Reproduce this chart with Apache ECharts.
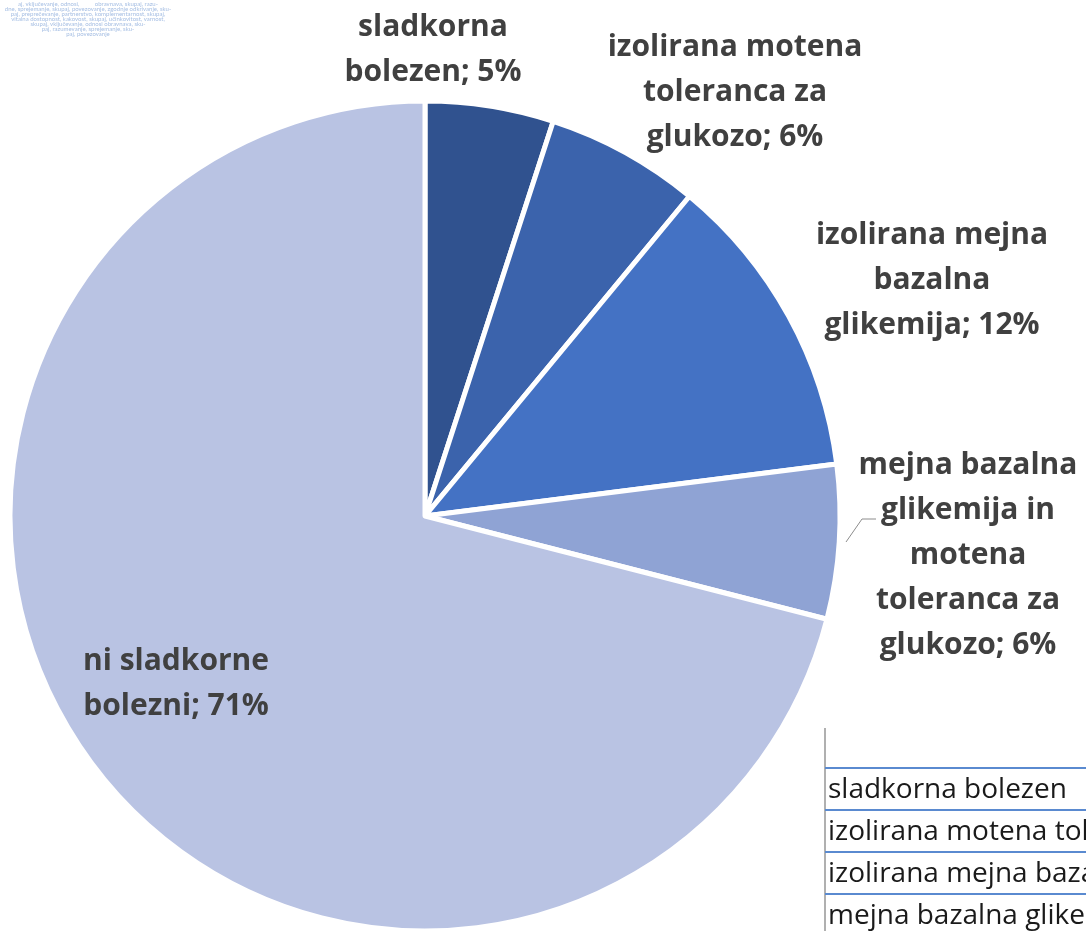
<!DOCTYPE html>
<html>
<head>
<meta charset="utf-8">
<script src="https://cdn.jsdelivr.net/npm/echarts@6/dist/echarts.min.js"></script>
<style>
	html, body { margin: 0; padding: 0; background: #fff; }
	#myChart { width: 1086px; height: 931px; }
</style>
</head>
<body>
<div id="myChart"></div>
<script>
// podatki
var categories = [
	'sladkorna bolezen',
	'izolirana motena toleranca za glukozo',
	'izolirana mejna bazalna glikemija',
	'mejna bazalna glikemija in motena toleranca za glukozo',
	'ni sladkorne bolezni'
]
var labelTexts = [
	'sladkorna\nbolezen',
	'izolirana motena\ntoleranca za\nglukozo',
	'izolirana mejna\nbazalna\nglikemija',
	'mejna bazalna\nglikemija in\nmotena\ntoleranca za\nglukozo',
	'ni sladkorne\nbolezni'
]
var values = [5, 6, 12, 6, 71]
var colors = ['#30528f', '#3b63ac', '#4472c4', '#8fa3d4', '#b9c3e3']
var tableRows = [
	'sladkorna bolezen',
	'izolirana motena toleranca za glukozo',
	'izolirana mejna bazalna glikemija',
	'mejna bazalna glikemija in motena toleranca za glukozo'
]
var cloudLines = [
	'aj, vključevanje, odnosi,          obravnava, skupaj, razu-',
	'dne, sprejemanje, skupaj, povezovanje, zgodnje odkrivanje, sku-',
	'paj, preprečevanje, partnerstvo, komplementarnost, skupaj,',
	'vitalna dostopnost, kakovost, skupaj, učinkovitost, varnost,',
	'skupaj, vključevanje, odnosi obravnava, sku-',
	'paj, razumevanje, sprejemanje, sku-',
	'paj, povezovanje'
]

var myChart = echarts.init(document.getElementById('myChart'))

// pozicije nalepk
var labelPos = [[433, 50], [735, 92], [932, 280], [968, 555], [176, 684]]

var graphics = []
cloudLines.forEach(function (t, i) {
	graphics.push({
		type: 'text',
		style: { text: t, x: 88, y: 1 + i * 5, fill: '#8eaedc', font: '6px Lato', align: 'center', opacity: 0.8 }
	})
})
// tabela spodaj desno
graphics.push({ type: 'line', shape: { x1: 825, y1: 728, x2: 825, y2: 931 }, style: { stroke: '#b0b0b0', lineWidth: 2 } })
tableRows.forEach(function (t, i) {
	graphics.push({ type: 'line', shape: { x1: 825, y1: 768 + i * 42, x2: 1086, y2: 768 + i * 42 }, style: { stroke: '#5a8ad0', lineWidth: 2 } })
	graphics.push({
		type: 'text',
		style: { text: t, x: 828, y: 790 + i * 42, fill: '#1a1a1a', font: '28px "Open Sans"', verticalAlign: 'middle' }
	})
})

var option = {
	animation: false,
	graphic: graphics,
	series: [{
		type: 'pie',
		center: [425, 516],
		radius: 415,
		startAngle: 90,
		clockwise: true,
		avoidLabelOverlap: false,
		itemStyle: {
			borderColor: '#ffffff',
			borderWidth: 5
		},
		label: {
			show: true,
			position: 'outside',
			formatter: function (p) {
				return labelTexts[p.dataIndex] + '; ' + p.value + '%'
			},
			color: '#404040',
			fontFamily: 'Open Sans',
			fontWeight: 'bold',
			fontSize: 30,
			lineHeight: 45,
			align: 'center'
		},
		labelLine: { show: false },
		labelLayout: function (params) {
			var i = params.dataIndex
			var res = {
				x: labelPos[i][0],
				y: labelPos[i][1],
				align: 'center',
				verticalAlign: 'middle'
			}
			if (i === 3) {
				res.labelLinePoints = [[846, 542], [862, 519], [876, 519]]
			}
			return res
		},
		data: values.map(function (v, i) {
			var item = { name: categories[i], value: v, itemStyle: { color: colors[i] } }
			if (i === 3) {
				item.labelLine = { show: true, lineStyle: { color: '#8c8c8c', width: 1 } }
			}
			if (i === 4) {
				item.label = { position: 'inside' }
			}
			return item
		})
	}]
}
myChart.setOption(option)
</script>
</body>
</html>
